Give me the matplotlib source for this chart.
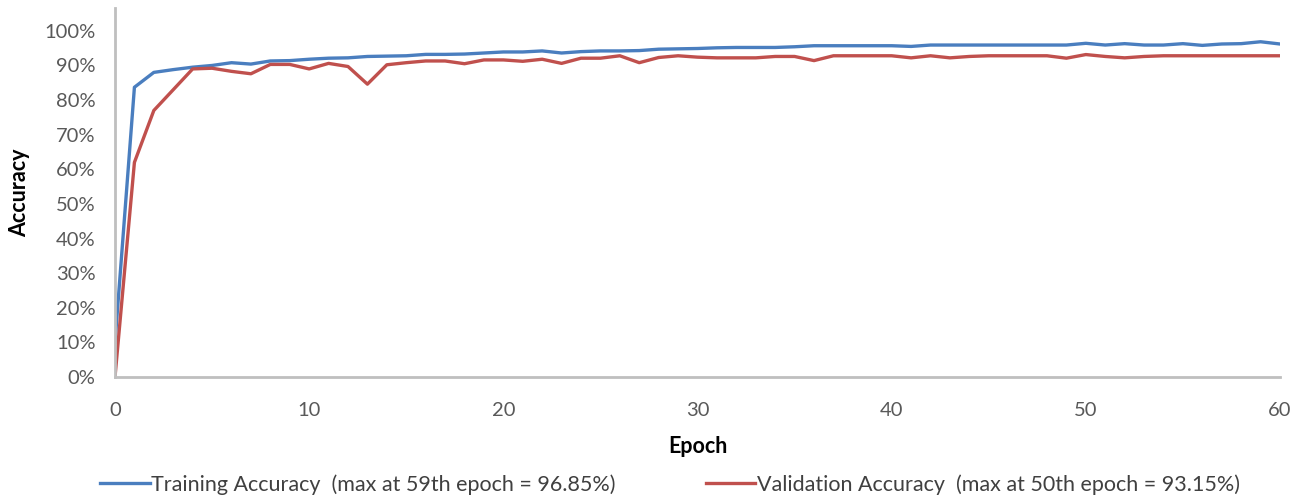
import numpy as np
import matplotlib
matplotlib.use("Agg")
import matplotlib.pyplot as plt
from matplotlib.ticker import PercentFormatter

# Daten (in Prozent)
epochs = list(range(0, 61))
train_acc = [10.0, 83.7, 88.0, 88.8, 89.5, 90.0, 90.8, 90.4, 91.3, 91.4,
             91.8, 92.1, 92.2, 92.6, 92.7, 92.8, 93.2, 93.2, 93.3, 93.6,
             93.9, 93.9, 94.2, 93.6, 94.0, 94.2, 94.2, 94.3, 94.7, 94.8,
             94.9, 95.1, 95.2, 95.2, 95.2, 95.4, 95.7, 95.7, 95.7, 95.7,
             95.7, 95.5, 95.9, 95.9, 95.9, 95.9, 95.9, 95.9, 95.9, 95.9,
             96.4, 95.9, 96.3, 95.9, 95.9, 96.3, 95.8, 96.2, 96.3, 96.85,
             96.2]
val_acc = [0.0, 62.0, 77.0, 83.0, 89.0, 89.2, 88.3, 87.6, 90.3, 90.3,
           89.0, 90.6, 89.7, 84.6, 90.2, 90.8, 91.3, 91.3, 90.5, 91.6,
           91.6, 91.2, 91.8, 90.6, 92.1, 92.1, 92.8, 90.8, 92.3, 92.8,
           92.4, 92.2, 92.2, 92.2, 92.6, 92.6, 91.4, 92.8, 92.8, 92.8,
           92.8, 92.2, 92.8, 92.2, 92.6, 92.8, 92.8, 92.8, 92.8, 92.1,
           93.15, 92.6, 92.2, 92.6, 92.8, 92.8, 92.8, 92.8, 92.8, 92.8,
           92.8]
train_label = "Training Accuracy  (max at 59th epoch = 96.85%)"
val_label = "Validation Accuracy  (max at 50th epoch = 93.15%)"

plt.rcParams['font.family'] = ['Lato', 'DejaVu Sans']

fig = plt.figure(figsize=(13.06, 4.97), dpi=100)
ax = fig.add_axes([115 / 1306, 1 - 377 / 497, (1280 - 115) / 1306, (377 - 8) / 497])

ax.plot(epochs, train_acc, color='#4a7ebf', lw=2.4, label=train_label)
ax.plot(epochs, val_acc, color='#c0504d', lw=2.4, label=val_label)

ax.set_xlim(0, 60)
ax.set_ylim(0, 106.6)
ax.set_xticks(range(0, 61, 10))
ax.set_yticks(range(0, 101, 10))
ax.yaxis.set_major_formatter(PercentFormatter(decimals=0))

for side in ['top', 'right']:
    ax.spines[side].set_visible(False)
for side in ['left', 'bottom']:
    ax.spines[side].set_color('#bfbfbf')
    ax.spines[side].set_linewidth(2)

ax.tick_params(axis='both', length=0, labelsize=14.5, colors='#595959')
ax.tick_params(axis='x', pad=18)
ax.tick_params(axis='y', pad=14)

ax.set_xlabel("Epoch", fontsize=15.5, fontweight='bold', labelpad=12)
ax.set_ylabel("Accuracy", fontsize=15.5, fontweight='bold', labelpad=10)

fig.legend(loc='lower center', bbox_to_anchor=(0.513, -0.035), ncol=2, frameon=False,
           fontsize=15.5, handlelength=2.3, handletextpad=0.05, columnspacing=4.2,
           labelcolor='#404040')

plt.savefig("out.png", dpi=100)
plt.close()
